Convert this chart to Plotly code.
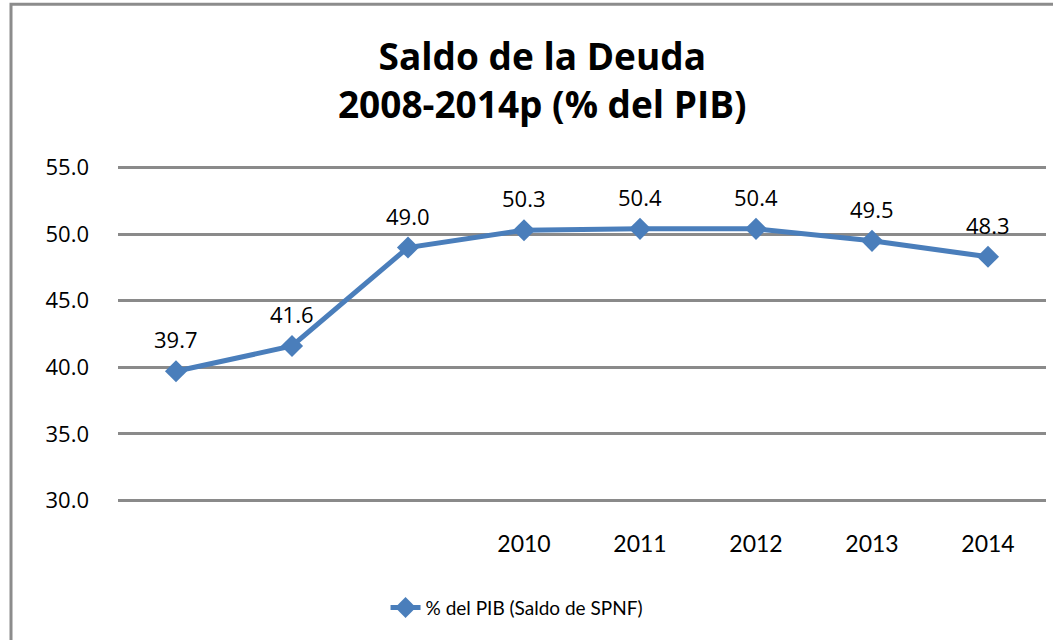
import plotly.graph_objects as go

# Data
tick_labels = ["", "", "", "2010", "2011", "2012", "2013", "2014"]
values = [39.7, 41.6, 49.0, 50.3, 50.4, 50.4, 49.5, 48.3]
y_ticks = [30, 35, 40, 45, 50, 55]
series_name = "% del PIB (Saldo de SPNF)"
title_text = "Saldo de la Deuda<br>2008-2014p (% del PIB)"

x_idx = list(range(len(values)))
blue = "#4a7ebb"

fig = go.Figure()
fig.add_trace(go.Scatter(
    x=x_idx, y=values, mode="lines+markers", name=series_name,
    line=dict(color=blue, width=5),
    marker=dict(symbol="diamond", size=17, color=blue),
    showlegend=True,
))

for xi, v in zip(x_idx, values):
    fig.add_annotation(x=xi, y=v, text=f"{v:.1f}", showarrow=False,
                       yshift=32, font=dict(family="Open Sans", size=22, color="#000"))

# plot area: left 118, right 1046, y-range 29.5..55.5 -> top 161.4, bottom 506.6
pt, pb = 161.4, 506.6
ph = pb - pt
fig.update_layout(
    width=1053, height=640,
    margin=dict(l=118, r=7, t=pt, b=640 - pb),
    paper_bgcolor="white", plot_bgcolor="white",
    title=dict(text=title_text, x=0.515, xanchor="center", y=1 - 70 / 640, yanchor="middle",
               font=dict(family="Open Sans", size=37, color="#000", weight="bold")),
    xaxis=dict(range=[-0.5, 7.5], tickmode="array", tickvals=x_idx, ticktext=tick_labels,
               showgrid=False, zeroline=False, showline=False, ticks="",
               ticklabelstandoff=21, tickfont=dict(family="Lato", size=23, color="#000")),
    yaxis=dict(range=[29.5, 55.5], tickvals=y_ticks, tickformat=".1f",
               showgrid=True, gridcolor="#8a8a8a", gridwidth=3, zeroline=False, showline=False,
               ticklabelstandoff=28, tickfont=dict(family="Open Sans", size=22, color="#000")),
    legend=dict(orientation="h", x=0.43, xanchor="center", y=(pb - 607) / ph, yanchor="middle",
                font=dict(family="Lato", size=19, color="#000"), bgcolor="rgba(0,0,0,0)"),
    shapes=[dict(type="rect", xref="paper", yref="paper",
                 x0=(11 - 118) / 928, x1=1.05, y0=(pb - 660) / ph, y1=(pb - 5) / ph,
                 line=dict(color="#8c8c8c", width=3), layer="below")],
)

fig.write_html("out.html", post_script="document.body.style.margin='0';",
               config={"displayModeBar": False})
